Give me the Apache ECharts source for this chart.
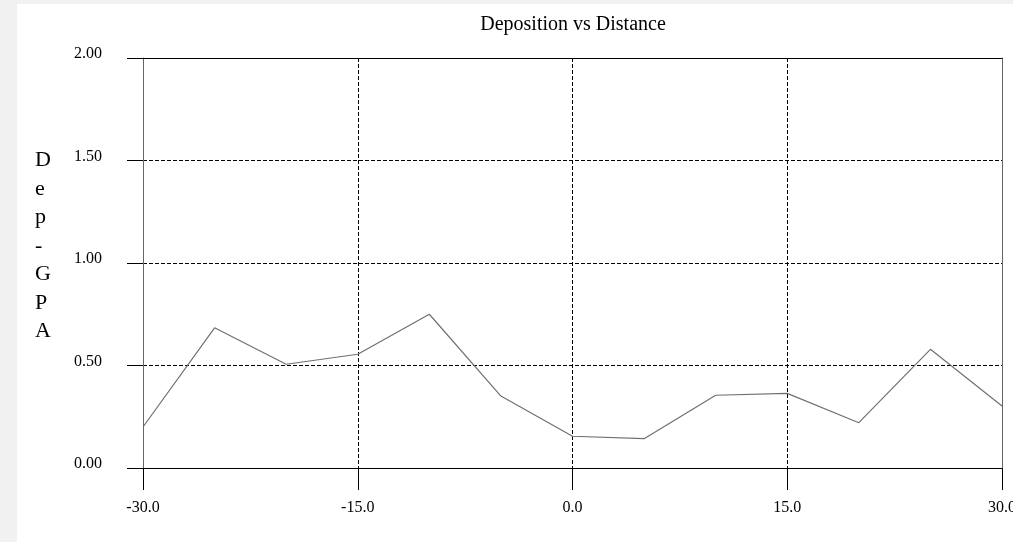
<!DOCTYPE html>
<html>
<head>
<meta charset="utf-8">
<script src="https://cdn.jsdelivr.net/npm/echarts@6/dist/echarts.min.js"></script>
<style>
html,body{margin:0;padding:0;background:#f1f1f1;width:1013px;height:542px;overflow:hidden;}
#chart{position:absolute;left:17px;top:4px;width:996px;height:538px;background:#fff;}
</style>
</head>
<body>
<div id="chart"></div>
<script>
const distances = [-30, -25, -20, -15, -10, -5, 0, 5, 10, 15, 20, 25, 30];
const depValues = [0.20, 0.684, 0.506, 0.555, 0.75, 0.351, 0.155, 0.143, 0.355, 0.364, 0.221, 0.579, 0.302];
const titleText = 'Deposition vs Distance';
const yName = ['D', 'e', 'p', '-', 'G', 'P', 'A'];

const serif = 'Liberation Serif, Times New Roman, serif';
const chart = echarts.init(document.getElementById('chart'));
chart.setOption({
  animation: false,
  backgroundColor: '#fff',
  title: [{
    text: titleText,
    left: 556,
    top: 11,
    padding: 0,
    textAlign: 'center',
    textStyle: { fontFamily: serif, fontSize: 20, fontWeight: 'normal', color: '#000' }
  }, {
    text: yName.join('\n'),
    left: 18,
    top: 142,
    padding: 0,
    textStyle: { fontFamily: serif, fontSize: 22, fontWeight: 'normal', color: '#000', lineHeight: 28.5 }
  }],
  grid: { left: 126, right: 11, top: 54, bottom: 74, containLabel: false, outerBoundsMode: 'none' },
  xAxis: [{
    type: 'value', min: -30, max: 30, interval: 15, position: 'bottom',
    axisLine: { show: true, onZero: false, lineStyle: { color: '#000', width: 1 } },
    axisTick: { show: true, length: 22, lineStyle: { color: '#000' } },
    axisLabel: { margin: 32, fontFamily: serif, fontSize: 16, color: '#000',
      formatter: v => v.toFixed(1) },
    splitLine: { show: true, showMinLine: false, showMaxLine: false,
      lineStyle: { color: '#000', type: [4, 2], width: 1 } }
  }, {
    type: 'value', min: -30, max: 30, interval: 15, position: 'top',
    axisLine: { show: true, onZero: false, lineStyle: { color: '#000', width: 1 } },
    axisTick: { show: false }, axisLabel: { show: false }, splitLine: { show: false }
  }],
  yAxis: [{
    type: 'value', min: 0, max: 2, interval: 0.5, position: 'left',
    axisLine: { show: true, onZero: false, lineStyle: { color: '#666', width: 1 } },
    axisTick: { show: true, length: 16, lineStyle: { color: '#000' } },
    axisLabel: { margin: 41, fontFamily: serif, fontSize: 16, color: '#000',
      verticalAlign: 'bottom', lineHeight: 8, formatter: v => v.toFixed(2) },
    splitLine: { show: true, showMinLine: false, showMaxLine: false,
      lineStyle: { color: '#000', type: [4, 2], width: 1 } }
  }, {
    type: 'value', min: 0, max: 2, interval: 0.5, position: 'right',
    axisLine: { show: true, onZero: false, lineStyle: { color: '#666', width: 1 } },
    axisTick: { show: false }, axisLabel: { show: false }, splitLine: { show: false }
  }],
  series: [{
    type: 'line',
    data: distances.map((d, i) => [d, depValues[i]]),
    showSymbol: false,
    symbol: 'none',
    lineStyle: { color: '#707070', width: 1.2 },
    z: 5
  }]
});
</script>
</body>
</html>
